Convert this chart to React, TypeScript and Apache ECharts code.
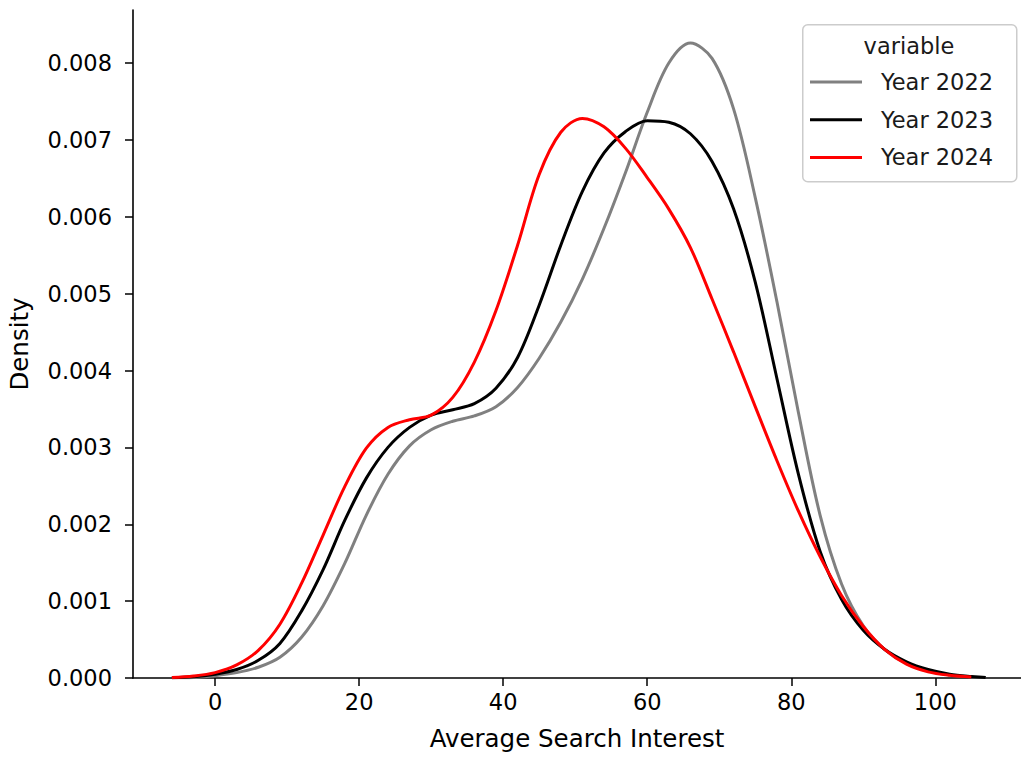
import React, { useEffect, useRef } from "react";
import * as echarts from "echarts";

// x positions (Average Search Interest) at which densities were read
const xs = [-6, -3, 0, 3, 6, 9, 12, 15, 18, 21, 24, 27, 30, 33, 36, 39, 42, 45, 48, 51, 54, 57, 60, 63, 66, 69, 72, 75, 78, 81, 84, 87, 90, 93, 96, 99, 102, 105, 107];

// densities in units of 0.001
const year2022 = [0.002, 0.008, 0.03, 0.07, 0.14, 0.27, 0.53, 0.94, 1.49, 2.12, 2.65, 3.02, 3.23, 3.34, 3.41, 3.53, 3.78, 4.16, 4.63, 5.19, 5.85, 6.58, 7.36, 8.00, 8.26, 8.06, 7.40, 6.25, 4.90, 3.45, 2.12, 1.22, 0.68, 0.37, 0.19, 0.09, 0.04, 0.015, 0.005];
const year2023 = [0.004, 0.015, 0.05, 0.11, 0.23, 0.45, 0.87, 1.41, 2.05, 2.60, 3.00, 3.26, 3.42, 3.49, 3.57, 3.77, 4.17, 4.85, 5.63, 6.33, 6.83, 7.11, 7.25, 7.23, 7.08, 6.72, 6.10, 5.15, 3.90, 2.65, 1.65, 1.02, 0.62, 0.37, 0.21, 0.11, 0.05, 0.02, 0.008];
const year2024 = [0.005, 0.025, 0.07, 0.17, 0.36, 0.70, 1.23, 1.86, 2.49, 2.99, 3.26, 3.36, 3.42, 3.65, 4.11, 4.78, 5.63, 6.55, 7.10, 7.28, 7.17, 6.89, 6.51, 6.10, 5.60, 4.93, 4.24, 3.53, 2.83, 2.17, 1.58, 1.07, 0.67, 0.37, 0.18, 0.08, 0.035, 0.012, null];

const seriesNames = ["Year 2022", "Year 2023", "Year 2024"];
const seriesColors = ["#808080", "#000000", "#ff0000"];
const seriesValues = [year2022, year2023, year2024];

const xTicks = [0, 20, 40, 60, 80, 100];
const yTicks = [0, 0.001, 0.002, 0.003, 0.004, 0.005, 0.006, 0.007, 0.008];

const FONT = "DejaVu Sans";

export default function App() {
  const ref = useRef<HTMLDivElement>(null);
  useEffect(() => {
    if (!ref.current) return;
    const chart = echarts.init(ref.current, null, { renderer: "svg" });
    const series = seriesValues.map((vals, i) => ({
      name: seriesNames[i],
      type: "line",
      smooth: 0.33,
      showSymbol: false,
      symbol: "none",
      color: seriesColors[i],
      lineStyle: { color: seriesColors[i], width: 3 },
      data: xs
        .map((x, j) => (vals[j] == null ? null : [x, (vals[j] as number) / 1000]))
        .filter((p) => p !== null),
      z: 2,
    }));
    chart.setOption({
      animation: false,
      textStyle: { fontFamily: FONT },
      grid: { left: 133, right: 0, top: 10, bottom: 80, outerBoundsMode: "none", containLabel: false },
      xAxis: {
        type: "value",
        min: -11.4,
        max: 111.9,
        name: "Average Search Interest",
        nameLocation: "middle",
        nameGap: 48,
        nameTextStyle: { fontFamily: FONT, fontSize: 24.5, color: "#000" },
        axisLine: { show: true, onZero: false, lineStyle: { color: "#000", width: 1.6 } },
        axisTick: { show: true, length: 8, lineStyle: { color: "#000", width: 1.5 }, customValues: xTicks },
        axisLabel: { fontFamily: FONT, fontSize: 22.5, color: "#000", margin: 12, customValues: xTicks },
        splitLine: { show: false },
      },
      yAxis: {
        type: "value",
        min: 0,
        max: 0.00869,
        name: "Density",
        nameLocation: "middle",
        nameGap: 101,
        nameTextStyle: { fontFamily: FONT, fontSize: 24.5, color: "#000" },
        axisLine: { show: true, onZero: false, lineStyle: { color: "#000", width: 1.6 } },
        axisTick: { show: true, length: 8, lineStyle: { color: "#000", width: 1.5 }, customValues: yTicks },
        axisLabel: {
          fontFamily: FONT,
          fontSize: 22.5,
          color: "#000",
          margin: 21,
          customValues: yTicks,
          formatter: (v: number) => v.toFixed(3),
        },
        splitLine: { show: false },
      },
      legend: {
        data: seriesNames,
        orient: "vertical",
        left: 810,
        top: 69,
        padding: 0,
        itemGap: 11.7,
        itemWidth: 52,
        itemHeight: 3,
        icon: "rect",
        z: 10,
        textStyle: { fontFamily: FONT, fontSize: 22.5, color: "#1a1a1a", lineHeight: 26, padding: [0, 0, 0, 14] },
      },
      graphic: [
        {
          type: "rect",
          left: 802,
          top: 24,
          shape: { width: 214, height: 157, r: 5 },
          style: { fill: "rgba(255,255,255,0.8)", stroke: "#cccccc", lineWidth: 1.5 },
          z: 3,
        },
        {
          type: "text",
          x: 909,
          y: 46,
          style: {
            text: "variable",
            fontFamily: FONT,
            fontSize: 22.5,
            fill: "#1a1a1a",
            align: "center",
            verticalAlign: "middle",
          },
          z: 11,
        },
      ],
      series,
    });
    return () => chart.dispose();
  }, []);
  return (
    <div
      ref={ref}
      style={{ position: "fixed", left: 0, top: 0, width: 1021, height: 758, background: "#fff" }}
    />
  );
}
